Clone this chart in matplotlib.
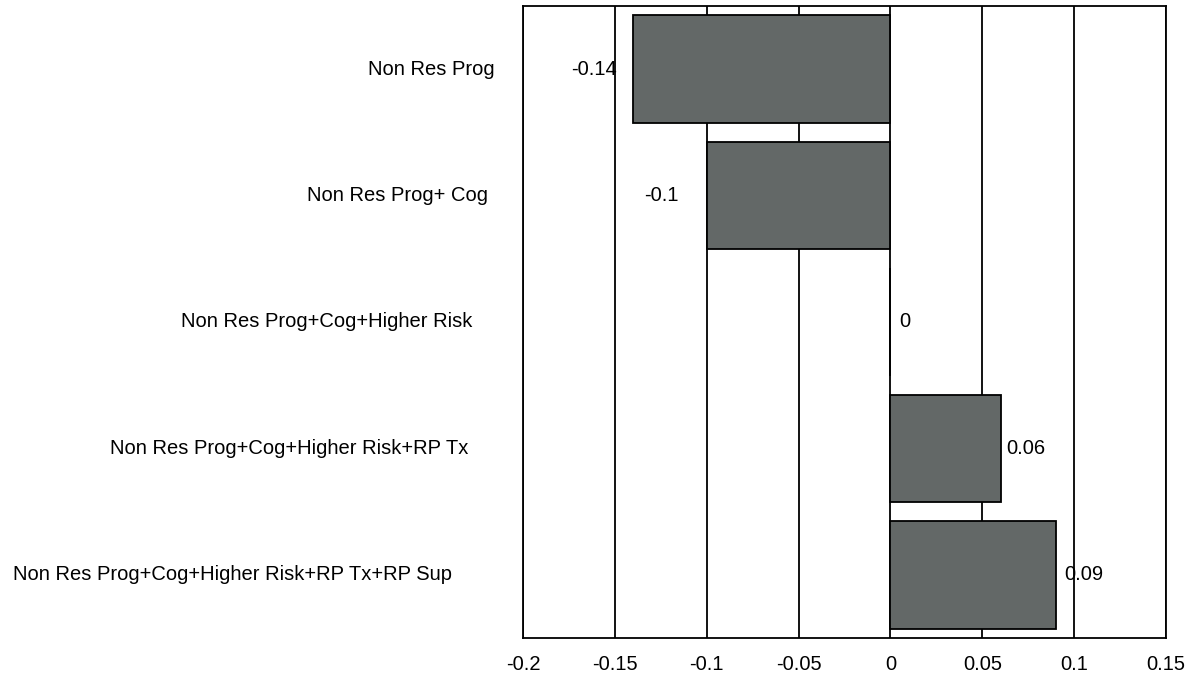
import numpy as np
import matplotlib.pyplot as plt

plt.rcParams['font.family'] = ['Liberation Sans', 'DejaVu Sans']

categories = ["Non Res Prog",
              "Non Res Prog+ Cog",
              "Non Res Prog+Cog+Higher Risk",
              "Non Res Prog+Cog+Higher Risk+RP Tx",
              "Non Res Prog+Cog+Higher Risk+RP Tx+RP Sup"]
values = [-0.14, -0.1, 0, 0.06, 0.09]
value_labels = ["-0.14", "-0.1", "0", "0.06", "0.09"]
xticks = [-0.2, -0.15, -0.1, -0.05, 0, 0.05, 0.1, 0.15]
xtick_labels = ["-0.2", "-0.15", "-0.1", "-0.05", "0", "0.05", "0.1", "0.15"]

# gaps in px, taken from the original layout
label_gaps = [28, 35, 51, 55, 71]
value_gaps = [16, 28, 9, 6, 8]

PX = 0.72  # points per pixel at 100 dpi
FS = 14.5

fig = plt.figure(figsize=(11.89, 6.75), dpi=100)
ax = fig.add_axes([523 / 1189, 37 / 675, 643 / 1189, 632 / 675])

y = np.arange(len(categories))
ax.set_axisbelow(True)
ax.xaxis.grid(True, color='black', linewidth=1.3)
ax.barh(y, values, height=0.85, color='#636867', edgecolor='black', linewidth=1.3, zorder=3)

ax.set_xlim(-0.2, 0.15)
ax.set_ylim(len(categories) - 0.5, -0.5)
ax.set_xticks(xticks)
ax.set_xticklabels(xtick_labels)
ax.set_yticks([])
ax.tick_params(axis='x', length=0, pad=12, labelsize=FS)
for s in ax.spines.values():
    s.set_color('black')
    s.set_linewidth(1.3)

for yi, cat, gap in zip(y, categories, label_gaps):
    ax.annotate(cat, xy=(0, yi), xycoords=('axes fraction', 'data'),
                xytext=(-gap * PX, 0), textcoords='offset points',
                ha='right', va='center', fontsize=FS)

for yi, v, lab, gap in zip(y, values, value_labels, value_gaps):
    if v < 0:
        ax.annotate(lab, xy=(v, yi), xytext=(-gap * PX, 0), textcoords='offset points',
                    ha='right', va='center', fontsize=FS, zorder=5)
    else:
        ax.annotate(lab, xy=(v, yi), xytext=(gap * PX, 0), textcoords='offset points',
                    ha='left', va='center', fontsize=FS, zorder=5)

fig.savefig("out.png", dpi=100)
